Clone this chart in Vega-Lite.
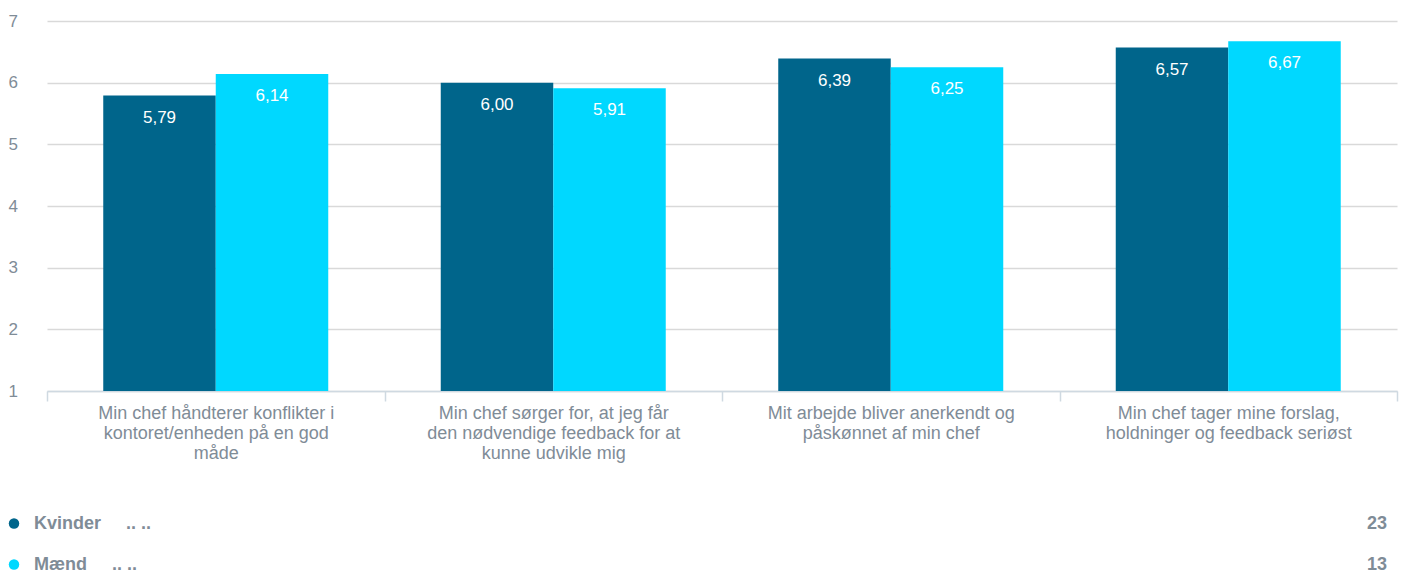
{
  "$schema": "https://vega.github.io/schema/vega-lite/v6.json",
  "padding": {"left": 8, "top": 12, "right": 7, "bottom": 0},
  "spacing": 41,
  "config": {
    "font": "Liberation Sans",
    "view": {"stroke": null},
    "locale": {"number": {"decimal": ",", "thousands": ".", "grouping": [3], "currency": ["", " kr."]}}
  },
  "datasets": {
    "scores": [
      {"category": "Min chef håndterer konflikter i kontoret/enheden på en god måde", "series": "Kvinder", "value": 5.79},
      {"category": "Min chef håndterer konflikter i kontoret/enheden på en god måde", "series": "Mænd", "value": 6.14},
      {"category": "Min chef sørger for, at jeg får den nødvendige feedback for at kunne udvikle mig", "series": "Kvinder", "value": 6.00},
      {"category": "Min chef sørger for, at jeg får den nødvendige feedback for at kunne udvikle mig", "series": "Mænd", "value": 5.91},
      {"category": "Mit arbejde bliver anerkendt og påskønnet af min chef", "series": "Kvinder", "value": 6.39},
      {"category": "Mit arbejde bliver anerkendt og påskønnet af min chef", "series": "Mænd", "value": 6.25},
      {"category": "Min chef tager mine forslag, holdninger og feedback seriøst", "series": "Kvinder", "value": 6.57},
      {"category": "Min chef tager mine forslag, holdninger og feedback seriøst", "series": "Mænd", "value": 6.67}
    ],
    "counts": [
      {"series": "Kvinder", "n": 23},
      {"series": "Mænd", "n": 13}
    ]
  },
  "vconcat": [
    {
      "width": 1350,
      "height": 370,
      "data": {"name": "scores"},
      "encoding": {
        "x": {
          "field": "category", "type": "nominal", "sort": null,
          "scale": {"paddingInner": 0, "paddingOuter": 0},
          "axis": {
            "title": null, "labelAngle": 0, "domainColor": "#cfd9e1", "domainWidth": 1.5,
            "tickColor": "#cfd9e1", "tickWidth": 1.5, "tickSize": 10, "tickBand": "extent",
            "labelColor": "#7f8c97", "labelFontSize": 18, "labelLineHeight": 20, "labelPadding": 3,
            "labelLimit": 0,
            "labelExpr": "!datum.label ? '' : test(/konflikter/, datum.label) ? ['Min chef håndterer konflikter i', 'kontoret/enheden på en god', 'måde'] : test(/sørger/, datum.label) ? ['Min chef sørger for, at jeg får', 'den nødvendige feedback for at', 'kunne udvikle mig'] : test(/anerkendt/, datum.label) ? ['Mit arbejde bliver anerkendt og', 'påskønnet af min chef'] : ['Min chef tager mine forslag,', 'holdninger og feedback seriøst']"
          }
        },
        "xOffset": {
          "field": "series", "type": "nominal", "sort": ["Kvinder", "Mænd"],
          "scale": {"paddingInner": 0, "paddingOuter": 0.5}
        },
        "y": {
          "field": "value", "type": "quantitative",
          "scale": {"domain": [1, 7], "zero": false, "nice": false},
          "axis": {
            "title": null, "values": [1, 2, 3, 4, 5, 6, 7], "domain": false, "ticks": false,
            "gridColor": "#d9d9d9", "gridWidth": 1.5, "labelColor": "#7f8c97", "labelFontSize": 17,
            "labelPadding": 39, "labelAlign": "left", "labelBaseline": "middle"
          }
        }
      },
      "layer": [
        {
          "mark": {"type": "bar"},
          "encoding": {
            "y2": {"datum": 1},
            "color": {
              "field": "series", "type": "nominal",
              "scale": {"domain": ["Kvinder", "Mænd"], "range": ["#00658b", "#00d8ff"]},
              "legend": null
            }
          }
        },
        {
          "mark": {"type": "text", "baseline": "top", "dy": 14, "fontSize": 17, "color": "#ffffff"},
          "encoding": {
            "text": {"field": "value", "type": "quantitative", "format": ".2f"}
          }
        }
      ]
    },
    {
      "width": 1350,
      "height": 82,
      "data": {"name": "counts"},
      "transform": [{"calculate": "datum.series + '\u00a0\u00a0\u00a0\u00a0\u00a0.. ..'", "as": "label"}],
      "encoding": {
        "y": {"field": "series", "type": "nominal", "sort": ["Kvinder", "Mænd"], "scale": {"paddingInner": 0, "paddingOuter": 0}, "axis": null}
      },
      "layer": [
        {
          "mark": {"type": "point", "filled": true, "shape": "circle", "size": 110, "opacity": 1},
          "encoding": {
            "x": {"value": -33},
            "color": {
              "field": "series", "type": "nominal",
              "scale": {"domain": ["Kvinder", "Mænd"], "range": ["#00658b", "#00d8ff"]},
              "legend": null
            }
          }
        },
        {
          "mark": {"type": "text", "align": "left", "baseline": "middle", "fontSize": 18, "fontWeight": "bold", "color": "#7f8c97"},
          "encoding": {"x": {"value": -13}, "text": {"field": "label"}}
        },
        {
          "mark": {"type": "text", "align": "right", "baseline": "middle", "fontSize": 18, "fontWeight": "bold", "color": "#7f8c97", "dx": -10},
          "encoding": {"x": {"value": "width"}, "text": {"field": "n", "type": "quantitative"}}
        }
      ]
    }
  ]
}
